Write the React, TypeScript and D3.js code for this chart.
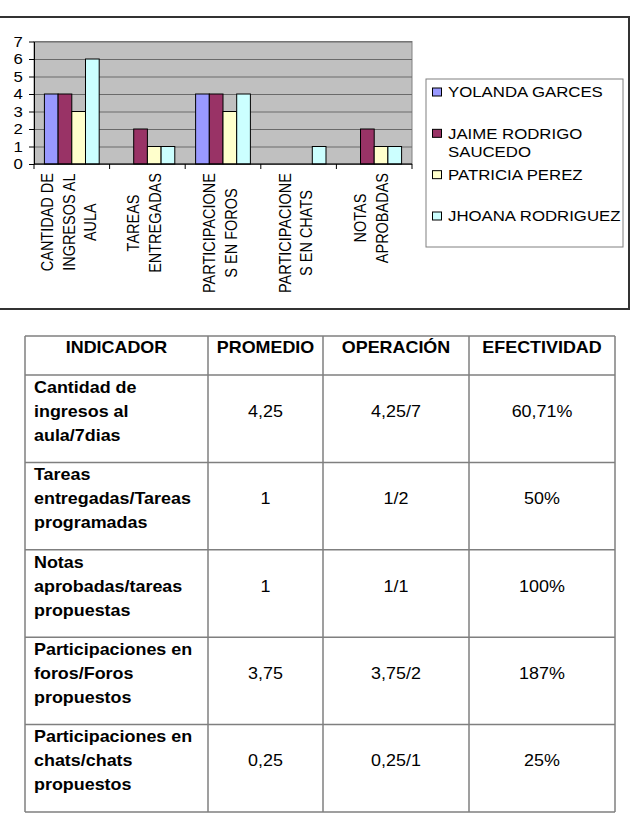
import React, { useEffect, useRef } from 'react';
import * as d3 from 'd3';

// chart data
const categories = [
  'CANTIDAD DE\nINGRESOS AL\nAULA',
  'TAREAS\nENTREGADAS',
  'PARTICIPACIONE\nS EN FOROS',
  'PARTICIPACIONE\nS EN CHATS',
  'NOTAS\nAPROBADAS',
];
const seriesNames = ['YOLANDA GARCES', 'JAIME RODRIGO\nSAUCEDO', 'PATRICIA PEREZ', 'JHOANA RODRIGUEZ'];
const yolanda = [4, 0, 4, 0, 0];
const jaime = [4, 2, 4, 0, 2];
const patricia = [3, 1, 3, 0, 1];
const jhoana = [6, 1, 4, 1, 1];
const yTicks = [0, 1, 2, 3, 4, 5, 6, 7];
const seriesColors = ['#9999FF', '#993366', '#FFFFCC', '#CCFFFF'];

// table data
const tableHeaders = ['INDICADOR', 'PROMEDIO', 'OPERACIÓN', 'EFECTIVIDAD'];
const indicadores = [
  'Cantidad de\ningresos al\naula/7dias',
  'Tareas\nentregadas/Tareas\nprogramadas',
  'Notas\naprobadas/tareas\npropuestas',
  'Participaciones en\nforos/Foros\npropuestos',
  'Participaciones en\nchats/chats\npropuestos',
];
const promedios = ['4,25', '1', '1', '3,75', '0,25'];
const operaciones = ['4,25/7', '1/2', '1/1', '3,75/2', '0,25/1'];
const efectividad = ['60,71%', '50%', '100%', '187%', '25%'];

const FONT = '"Liberation Sans", Arial, Helvetica, sans-serif';
const SX = 1.12; // the scan is a bit stretched horizontally

const App: React.FC = () => {
  const svgRef = useRef<SVGSVGElement>(null);

  useEffect(() => {
    if (!svgRef.current) return;
    const svg = d3.select(svgRef.current);
    svg.selectAll('*').remove();

    const addText = (
      parent: d3.Selection<any, any, any, any>,
      str: string,
      x: number,
      y: number,
      size: number,
      anchor = 'start',
      weight = 'normal'
    ) =>
      parent
        .append('text')
        .attr('transform', `translate(${x},${y}) scale(${SX},1)`)
        .attr('text-anchor', anchor)
        .attr('font-family', FONT)
        .attr('font-size', size)
        .attr('font-weight', weight)
        .attr('fill', '#000')
        .text(str);

    // outer chart frame
    svg
      .append('rect')
      .attr('x', -10)
      .attr('y', 17)
      .attr('width', 639)
      .attr('height', 292)
      .attr('fill', 'none')
      .attr('stroke', '#333')
      .attr('stroke-width', 2);

    const plot = { left: 34, right: 412, top: 41.5, bottom: 164 };

    const x0 = d3.scaleBand<string>().domain(categories).range([plot.left, plot.right]);
    const x1 = d3
      .scaleBand<string>()
      .domain(seriesNames)
      .range([0, x0.bandwidth()])
      .paddingOuter(0.76);
    const y = d3.scaleLinear().domain([0, 7]).range([plot.bottom, plot.top]);

    // plot area
    svg
      .append('rect')
      .attr('x', plot.left)
      .attr('y', plot.top)
      .attr('width', plot.right - plot.left)
      .attr('height', plot.bottom - plot.top)
      .attr('fill', '#C0C0C0')
      .attr('stroke', '#808080');

    // grid lines
    svg
      .append('g')
      .attr('transform', `translate(${plot.left},0)`)
      .call(
        d3
          .axisLeft(y)
          .tickValues(yTicks)
          .tickSize(-(plot.right - plot.left))
          .tickFormat(() => '')
      )
      .call((g) => g.select('.domain').remove())
      .selectAll('line')
      .attr('stroke', '#6a6a6a');

    // bars
    const seriesValues = [yolanda, jaime, patricia, jhoana];
    seriesNames.forEach((name, si) => {
      const rows = categories
        .map((c, ci) => ({ c, v: seriesValues[si][ci] }))
        .filter((d) => d.v > 0);
      svg
        .append('g')
        .selectAll('rect')
        .data(rows)
        .enter()
        .append('rect')
        .attr('x', (d) => (x0(d.c) as number) + (x1(name) as number))
        .attr('y', (d) => y(d.v))
        .attr('width', x1.bandwidth())
        .attr('height', (d) => y(0) - y(d.v))
        .attr('fill', seriesColors[si])
        .attr('stroke', '#000')
        .attr('stroke-width', 1);
    });

    // y axis
    const yAxis = svg
      .append('g')
      .attr('transform', `translate(${plot.left},0)`)
      .call(
        d3
          .axisLeft(y)
          .tickValues(yTicks)
          .tickSize(5)
          .tickSizeOuter(0)
          .tickPadding(5)
          .tickFormat(d3.format('d'))
      );
    yAxis.selectAll('path,line').attr('stroke', '#000');
    yAxis
      .selectAll('text')
      .attr('font-family', FONT)
      .attr('font-size', 15)
      .attr('fill', '#000')
      .attr('transform', `scale(${SX},1)`);

    // x axis (ticks between categories)
    const xAxis = svg.append('g');
    xAxis
      .append('line')
      .attr('x1', plot.left)
      .attr('x2', plot.right)
      .attr('y1', plot.bottom)
      .attr('y2', plot.bottom)
      .attr('stroke', '#000');
    const edges = categories.map((c) => x0(c) as number).concat([plot.right]);
    xAxis
      .selectAll('.xtick')
      .data(edges)
      .enter()
      .append('line')
      .attr('x1', (d) => d)
      .attr('x2', (d) => d)
      .attr('y1', plot.bottom)
      .attr('y2', plot.bottom + 5)
      .attr('stroke', '#000');

    // rotated category labels
    const labelTop = 173;
    const lineGap = 21.7;
    categories.forEach((cat) => {
      const lines = cat.split('\n');
      const g = svg.append('g');
      const texts = lines.map((ln) =>
        g
          .append('text')
          .attr('font-family', FONT)
          .attr('font-size', 14.5)
          .attr('fill', '#000')
          .attr('text-anchor', 'middle')
          .text(ln)
      );
      const maxLen = d3.max(texts, (t) => (t.node() as SVGTextElement).getComputedTextLength()) || 0;
      const cx = (x0(cat) as number) + x0.bandwidth() / 2 - 3;
      texts.forEach((t, i) => {
        const lineCenter = cx + (i - (lines.length - 1) / 2) * lineGap;
        t.attr(
          'transform',
          `translate(${lineCenter + 5.8},${labelTop + maxLen / 2}) scale(${SX},1) rotate(-90)`
        );
      });
    });

    // legend
    const legend = svg.append('g');
    legend
      .append('rect')
      .attr('x', 426)
      .attr('y', 79)
      .attr('width', 197)
      .attr('height', 168)
      .attr('fill', '#fff')
      .attr('stroke', '#808080');
    const ly = d3.scalePoint<string>().domain(seriesNames).range([92, 216]);
    seriesNames.forEach((name, i) => {
      const cy = ly(name) as number;
      legend
        .append('rect')
        .attr('x', 432.5)
        .attr('y', cy - 4)
        .attr('width', 9)
        .attr('height', 8)
        .attr('fill', seriesColors[i])
        .attr('stroke', '#000');
      name.split('\n').forEach((ln, li) => {
        addText(legend, ln, 448, cy + 5.3 + li * 18, 15);
      });
    });

    // table
    const cols = [25, 208, 323, 469, 615];
    const headTop = 336;
    const headBottom = 375;
    const rowScale = d3
      .scaleBand<number>()
      .domain(d3.range(indicadores.length))
      .range([headBottom, 812]);
    const table = svg.append('g');
    const gridColor = '#7f7f7f';

    [headTop, ...indicadores.map((_, i) => rowScale(i) as number), 812].forEach((yy) => {
      table
        .append('line')
        .attr('x1', cols[0])
        .attr('x2', cols[cols.length - 1])
        .attr('y1', yy)
        .attr('y2', yy)
        .attr('stroke', gridColor)
        .attr('stroke-width', 1.5);
    });
    cols.forEach((xx) => {
      table
        .append('line')
        .attr('x1', xx)
        .attr('x2', xx)
        .attr('y1', headTop)
        .attr('y2', 812)
        .attr('stroke', gridColor)
        .attr('stroke-width', 1.5);
    });

    tableHeaders.forEach((h, i) => {
      addText(table, h, (cols[i] + cols[i + 1]) / 2, headTop + 17, 16, 'middle', 'bold');
    });

    indicadores.forEach((ind, r) => {
      const top = rowScale(r) as number;
      ind.split('\n').forEach((ln, li) => {
        addText(table, ln, cols[0] + 9, top + 17.7 + li * 24, 16, 'start', 'bold');
      });
      [promedios[r], operaciones[r], efectividad[r]].forEach((v, ci) => {
        addText(table, v, (cols[ci + 1] + cols[ci + 2]) / 2, top + 41.7, 16, 'middle');
      });
    });
  }, []);

  return (
    <svg
      ref={svgRef}
      width={632}
      height={819}
      style={{ position: 'absolute', left: 0, top: 0, display: 'block', background: '#fff' }}
    />
  );
};

export default App;
